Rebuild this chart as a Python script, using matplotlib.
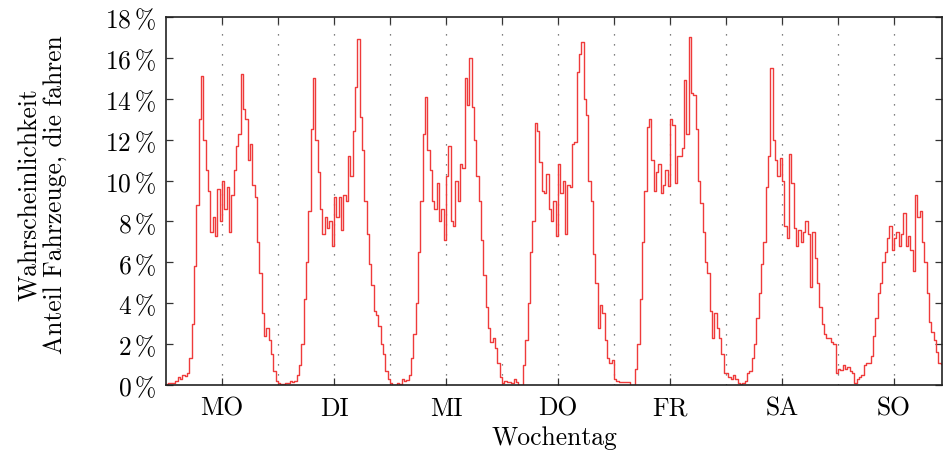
import matplotlib
matplotlib.use('Agg')
import matplotlib.pyplot as plt
import numpy as np

plt.rcParams['font.family'] = 'serif'
plt.rcParams['font.serif'] = ['cmr10']
plt.rcParams['mathtext.fontset'] = 'cm'
plt.rcParams['axes.formatter.use_mathtext'] = True

# Anteil fahrender Fahrzeuge in %, je halbe Stunde (48 Werte pro Tag)
mo = [0.05, 0.1, 0.1, 0.1, 0.2, 0.4, 0.3, 0.5, 0.45, 0.6, 1.3, 3.0,
      5.8, 8.8, 13.0, 15.1, 12.0, 10.5, 9.5, 7.5, 8.2, 7.3, 9.6, 8.0,
      10.0, 8.6, 9.7, 7.5, 9.3, 10.5, 11.7, 12.3, 15.2, 13.5, 13.0, 11.0,
      11.8, 9.8, 9.2, 7.0, 5.5, 3.5, 2.4, 2.8, 2.2, 1.5, 0.7, 0.2]
di = [0.1, 0.05, 0.05, 0.1, 0.1, 0.2, 0.15, 0.2, 0.5, 1.0, 2.0, 4.2,
      6.0, 8.5, 12.5, 15.0, 12.0, 10.4, 8.6, 7.4, 8.2, 7.7, 8.0, 6.8,
      9.2, 8.2, 9.2, 7.6, 9.3, 9.0, 11.2, 10.2, 12.4, 14.6, 16.9, 13.1,
      11.5, 9.0, 7.4, 5.9, 4.9, 3.6, 3.4, 2.9, 2.0, 1.5, 0.7, 0.3]
mi = [0.1, 0.0, 0.0, 0.08, 0.05, 0.3, 0.2, 0.25, 0.5, 1.3, 2.5, 4.0,
      6.5, 9.0, 12.3, 14.1, 11.5, 10.5, 9.0, 8.6, 9.9, 8.0, 8.6, 7.1,
      10.2, 11.7, 8.0, 7.8, 10.0, 9.0, 10.8, 10.6, 15.0, 13.7, 16.0, 13.6,
      12.0, 10.2, 9.0, 7.1, 5.4, 3.8, 2.8, 2.1, 2.3, 1.8, 1.1, 0.4]
do_ = [0.1, 0.2, 0.15, 0.13, 0.1, 0.3, 0.15, 0.0, 0.0, 1.0, 2.2, 4.0,
       6.5, 8.0, 12.8, 12.4, 10.9, 9.5, 9.4, 10.3, 8.6, 8.0, 9.0, 7.3,
       10.8, 9.4, 10.0, 7.4, 9.8, 9.7, 11.8, 11.9, 15.3, 16.2, 16.8, 14.0,
       13.2, 10.0, 9.0, 6.4, 5.0, 2.8, 3.9, 3.5, 2.2, 1.3, 1.1, 1.2]
fr = [0.3, 0.2, 0.15, 0.15, 0.15, 0.15, 0.15, 0.0, 0.0, 0.8, 2.0, 4.2,
      7.0, 9.5, 12.6, 13.0, 11.0, 9.5, 10.4, 10.8, 9.4, 9.8, 10.5, 9.75,
      13.0, 12.7, 9.9, 11.2, 11.2, 11.6, 14.9, 12.3, 17.0, 14.3, 14.2, 12.5,
      10.0, 8.9, 7.5, 6.0, 5.5, 3.6, 2.3, 3.5, 2.8, 2.3, 1.5, 0.6]
sa = [0.6, 0.4, 0.3, 0.5, 0.3, 0.1, 0.05, 0.1, 0.2, 0.6, 0.7, 1.3,
      2.0, 3.3, 4.5, 5.9, 7.0, 9.7, 11.2, 15.5, 12.0, 11.0, 10.2, 11.1,
      10.0, 7.8, 7.2, 11.3, 9.9, 7.7, 6.8, 7.6, 7.0, 7.5, 8.0, 7.4,
      4.8, 7.5, 6.2, 5.0, 3.8, 3.0, 2.5, 2.3, 2.3, 2.1, 2.0, 0.6]
so = [0.8, 0.75, 1.0, 0.8, 0.9, 0.7, 0.6, 0.1, 0.3, 0.4, 0.5, 1.0,
      1.1, 1.1, 1.4, 2.4, 3.3, 4.5, 5.0, 6.0, 6.5, 7.2, 7.8, 6.6,
      7.2, 7.5, 6.8, 7.4, 8.4, 6.8, 7.3, 6.6, 5.6, 9.3, 8.2, 8.5,
      7.0, 6.0, 4.5, 3.1, 2.6, 2.2, 1.6, 1.1, 1.05, 1.05, 1.0, 0.9]

tage = ['MO', 'DI', 'MI', 'DO', 'FR', 'SA', 'SO']
yticks = [0, 2, 4, 6, 8, 10, 12, 14, 16, 18]

werte = np.array(mo + di + mi + do_ + fr + sa + so)
t = np.arange(len(werte) + 1) / 48.0
werte = np.append(werte, werte[-1])

fig = plt.figure(figsize=(9.43, 4.52), dpi=100)
ax = fig.add_axes([166/943, 1 - 386/452, 776/943, 368/452])

ax.plot(t, werte, drawstyle='steps-post', color='#ef3b3b', lw=1.0)

ax.set_xlim(0, 776/112)
ax.set_ylim(0, 18)

ax.set_xticks(np.arange(7) + 0.5)
ax.set_xticklabels(tage, fontsize=18.4)
ax.set_xticks(np.arange(1, 7), minor=True)
ax.set_yticks(yticks)
ax.set_yticklabels([r'$%d\,\%%$' % v for v in yticks], fontsize=18.4)

ax.tick_params(axis='both', which='both', direction='in', color='#333333',
               width=0.9, length=5, top=True, right=True)
ax.tick_params(axis='x', which='major', pad=8)
ax.tick_params(axis='x', which='minor', bottom=False)
ax.tick_params(axis='y', pad=7)

ax.grid(True, axis='x', which='both', linestyle=(0, (1, 7)), color='#555555', lw=0.9)

for s in ax.spines.values():
    s.set_color('#222222')
    s.set_linewidth(1.2)

ax.set_xlabel('Wochentag', fontsize=18.4, labelpad=4)
ax.set_ylabel('Wahrscheinlichkeit\nAnteil Fahrzeuge, die fahren', fontsize=18.4, linespacing=1.05)
ax.yaxis.set_label_coords(-0.128, 0.52)

fig.savefig('out.png', dpi=100)
